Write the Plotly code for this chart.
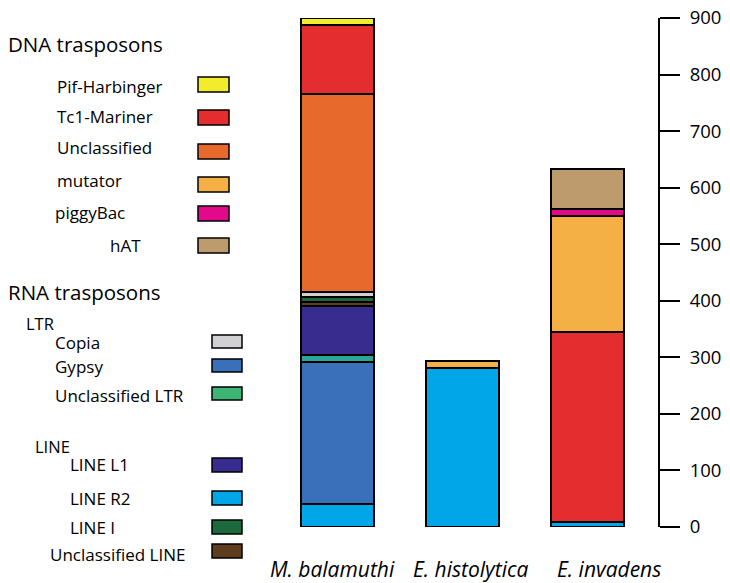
import plotly.graph_objects as go

# ---------------- data ----------------
species = ["M. balamuthi", "E. histolytica", "E. invadens"]

# stacking order bottom -> top
series_names = [
    "LINE R2", "Gypsy", "Unclassified LTR", "LINE L1", "Unclassified LINE",
    "LINE I", "Copia", "Unclassified", "Tc1-Mariner", "mutator",
    "piggyBac", "hAT", "Pif-Harbinger",
]
line_r2 = [41, 281, 9]
gypsy = [250, None, None]
uncl_ltr = [14, None, None]
line_l1 = [85, None, None]
uncl_line = [7, None, None]
line_i = [9, None, None]
copia = [10, None, None]
dna_uncl = [350, None, None]
tc1_mariner = [122, None, 336]
mutator = [None, 12, 205]
piggybac = [None, None, 13]
hat = [None, None, 70]
pif_harbinger = [12, None, None]

series_values = [line_r2, gypsy, uncl_ltr, line_l1, uncl_line, line_i, copia,
                 dna_uncl, tc1_mariner, mutator, piggybac, hat, pif_harbinger]

y_ticks = [0, 100, 200, 300, 400, 500, 600, 700, 800, 900]

# ---------------- styles ----------------
colors = {
    "Pif-Harbinger": "#F3EC2C",
    "Tc1-Mariner": "#E32D2F",
    "Unclassified": "#E8692C",
    "mutator": "#F4B044",
    "piggyBac": "#E2098A",
    "hAT": "#BD9B6C",
    "Copia": "#D1D1D3",
    "Gypsy": "#3A70B9",
    "Unclassified LTR": "#2AA696",
    "LINE L1": "#382C8E",
    "LINE R2": "#00A6E8",
    "LINE I": "#1C6A3B",
    "Unclassified LINE": "#5E3E1E",
}
legend_swatch_override = {"Unclassified LTR": "#3DB574"}

FONT = "Open Sans"
W, H = 730, 583
# plot area in page pixels
PL, PR, PT, PB = 8, 658, 18, 527


def px(x):
    return (x - PL) / (PR - PL)


def py(y):
    return (PB - y) / (PB - PT)


fig = go.Figure()
for name, vals in zip(series_names, series_values):
    fig.add_trace(go.Bar(
        x=species, y=vals, name=name, width=0.584,
        marker=dict(color=colors[name], line=dict(color="black", width=2)),
        showlegend=False,
    ))

# ---------------- custom legend (text + swatches) ----------------
TXT_PAD = 2
text_items = [
    ("DNA trasposons", 8, 44, 20.5),
    ("Pif-Harbinger", 57, 86, 17),
    ("Tc1-Mariner", 57, 117, 17),
    ("Unclassified", 57, 147, 17),
    ("mutator", 57, 180, 17),
    ("piggyBac", 55, 212, 17),
    ("hAT", 110, 246, 17),
    ("RNA trasposons", 8, 292, 20.5),
    ("LTR", 26, 323, 16.5),
    ("Copia", 55, 342, 17),
    ("Gypsy", 55, 366, 17),
    ("Unclassified LTR", 55, 395, 17),
    ("LINE", 35, 446, 16.5),
    ("LINE L1", 70, 464, 17),
    ("LINE R2", 70, 498, 17),
    ("LINE I", 70, 527, 17),
    ("Unclassified LINE", 50, 554, 17),
]
annotations = []
for t, x, y, s in text_items:
    annotations.append(dict(
        text=t, x=px(x - TXT_PAD), y=py(y), xref="paper", yref="paper",
        xanchor="left", yanchor="middle", showarrow=False,
        font=dict(family=FONT, size=s, color="black"),
    ))

# species labels under the bars (offsets as in the reference)
label_shifts = [-5, 8, 21]
for sp, sh in zip(species, label_shifts):
    annotations.append(dict(
        text=sp, x=sp, xref="x", y=py(569), yref="paper", xshift=sh,
        xanchor="center", yanchor="middle", showarrow=False,
        font=dict(family=FONT, size=21, style="italic", color="black"),
    ))

swatches = [
    ("Pif-Harbinger", 198, 229, 77, 92),
    ("Tc1-Mariner", 198, 229, 110, 125),
    ("Unclassified", 198, 229, 144, 159),
    ("mutator", 198, 229, 177, 192),
    ("piggyBac", 198, 229, 206, 221),
    ("hAT", 198, 229, 238, 253),
    ("Copia", 212, 242, 335, 348),
    ("Gypsy", 212, 242, 359, 372),
    ("Unclassified LTR", 212, 242, 387, 400),
    ("LINE L1", 212, 242, 458, 472),
    ("LINE R2", 212, 242, 491, 505),
    ("LINE I", 212, 242, 520, 534),
    ("Unclassified LINE", 212, 242, 544, 558),
]
shapes = []
for name, x0, x1, y0, y1 in swatches:
    shapes.append(dict(
        type="rect", xref="paper", yref="paper",
        x0=px(x0), x1=px(x1), y0=py(y1), y1=py(y0),
        fillcolor=legend_swatch_override.get(name, colors[name]),
        line=dict(color="black", width=1.5),
    ))

# x range so categories sit at 337.5, 462.5, 587.5 (page px)
step = 125.0
x0v = -(337.5 - PL) / step
x1v = x0v + (PR - PL) / step

fig.update_layout(
    barmode="stack",
    width=W, height=H,
    margin=dict(l=PL, r=W - PR, t=PT, b=H - PB, pad=0, autoexpand=False),
    paper_bgcolor="white", plot_bgcolor="white",
    font=dict(family=FONT, color="black"),
    annotations=annotations,
    shapes=shapes,
    hovermode=False,
    xaxis=dict(
        range=[x0v, x1v], showline=False, showgrid=False, zeroline=False,
        ticks="", showticklabels=False, automargin=False,
    ),
    yaxis=dict(
        side="right", range=[0, 900], tickvals=y_ticks,
        showline=True, linecolor="black", linewidth=2,
        ticks="outside", ticklen=20, tickwidth=2, tickcolor="black",
        showgrid=False, zeroline=False, automargin=False,
        tickfont=dict(family=FONT, size=18.5, color="black"),
        ticklabelstandoff=6, ticklabeloverflow="allow",
    ),
)

fig.write_html(
    "out.html",
    config={"displayModeBar": False},
    post_script="document.body.style.margin='0';",
)
